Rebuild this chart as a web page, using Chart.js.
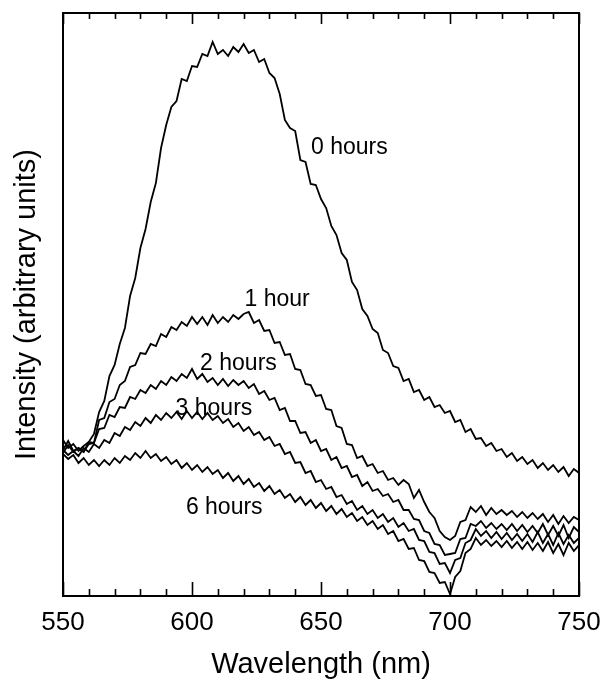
<!DOCTYPE html>
<html>
<head>
<meta charset="utf-8">
<script src="https://cdn.jsdelivr.net/npm/chart.js@4/dist/chart.umd.min.js"></script>
<style>
  html, body { margin: 0; padding: 0; background: #fff; }
  #wrap { width: 607px; height: 692px; }
</style>
</head>
<body>
<div id="wrap"><canvas id="grafico" width="607" height="692"></canvas></div>
<script>
// wavelength (nm), one reading every 2 nm
var wavelengths = [
  550, 552, 554, 556, 558, 560, 562, 564, 566, 568,
  570, 572, 574, 576, 578, 580, 582, 584, 586, 588,
  590, 592, 594, 596, 598, 600, 602, 604, 606, 608,
  610, 612, 614, 616, 618, 620, 622, 624, 626, 628,
  630, 632, 634, 636, 638, 640, 642, 644, 646, 648,
  650, 652, 654, 656, 658, 660, 662, 664, 666, 668,
  670, 672, 674, 676, 678, 680, 682, 684, 686, 688,
  690, 692, 694, 696, 698, 700, 702, 704, 706, 708,
  710, 712, 714, 716, 718, 720, 722, 724, 726, 728,
  730, 732, 734, 736, 738, 740, 742, 744, 746, 748,
  750
];

// intensity, arbitrary units
var hours0 = [
  160, 152, 156, 149, 154, 158, 166, 188, 199, 224,
  235, 256, 272, 304, 322, 352, 371, 398, 417, 452,
  475, 493, 499, 521, 519, 534, 533, 546, 544, 558,
  546, 550, 544, 553, 548, 556, 547, 550, 538, 541,
  527, 522, 506, 480, 472, 469, 440, 438, 416, 415,
  401, 392, 374, 365, 347, 340, 318, 310, 291, 284,
  271, 267, 250, 247, 234, 232, 219, 221, 208, 210,
  200, 203, 193, 195, 187, 189, 178, 180, 168, 171,
  161, 162, 154, 157, 149, 151, 143, 147, 139, 143,
  136, 140, 132, 137, 130, 135, 128, 133, 124, 131,
  127
];
var hours1 = [
  150, 159, 149, 152, 148, 156, 157, 180, 182, 198,
  201, 215, 219, 233, 235, 247, 246, 256, 254, 266,
  263, 273, 270, 278, 274, 283, 276, 283, 275, 285,
  277, 283, 278, 285, 281, 286, 288, 277, 280, 269,
  270, 257, 258, 245, 246, 231, 230, 216, 215, 204,
  205, 191, 190, 174, 172, 156, 155, 142, 144, 134,
  136, 127, 129, 120, 122, 115, 120, 116, 102, 110,
  98, 88, 82, 69, 63, 60, 64, 78, 80, 93,
  88, 94, 85, 92, 86, 90, 85, 89, 83, 88,
  82, 87, 81, 86, 78, 85, 76, 84, 77, 83,
  80
];
var hours2 = [
  147, 155, 148, 152, 148, 158, 157, 171, 172, 185,
  183, 193, 192, 203, 201, 210, 207, 215, 211, 219,
  215, 223, 219, 226, 222, 231, 221, 226, 218, 222,
  215, 221, 214, 220, 215, 219, 212, 216, 206, 209,
  200, 202, 190, 192, 179, 179, 167, 168, 157, 160,
  149, 151, 140, 143, 132, 134, 123, 125, 114, 118,
  109, 111, 104, 106, 98, 100, 90, 90, 81, 80,
  69, 67, 56, 55, 45, 46, 47, 61, 62, 76,
  74, 79, 72, 77, 71, 76, 70, 76, 69, 75,
  68, 74, 67, 76, 65, 74, 64, 75, 62, 73,
  68
];
var hours3 = [
  150, 145, 149, 144, 152, 148, 156, 152, 160, 157,
  167, 164, 173, 170, 178, 174, 182, 177, 185, 180,
  187, 182, 188, 181, 189, 182, 188, 181, 187, 180,
  184, 177, 181, 173, 177, 169, 173, 165, 168, 160,
  163, 154, 156, 146, 148, 137, 138, 127, 129, 118,
  120, 111, 113, 103, 105, 96, 99, 90, 94, 86,
  90, 82, 86, 78, 82, 73, 77, 69, 71, 60,
  59, 48, 47, 36, 37, 27, 40, 42, 57, 60,
  71, 64, 69, 62, 68, 61, 67, 60, 66, 59,
  66, 58, 68, 57, 66, 55, 67, 56, 65, 57,
  62
];
var hours6 = [
  146, 141, 145, 137, 142, 135, 140, 134, 140, 135,
  142, 137, 144, 140, 147, 142, 149, 142, 146, 139,
  143, 136, 140, 132, 137, 130, 135, 128, 133, 126,
  130, 122, 127, 119, 124, 116, 121, 113, 117, 109,
  114, 106, 110, 102, 106, 98, 103, 95, 100, 92,
  97, 89, 94, 86, 91, 83, 87, 79, 83, 75,
  79, 71, 75, 66, 69, 59, 61, 51, 52, 40,
  39, 28, 27, 17, 18, 6, 23, 29, 47, 51,
  62, 55, 60, 54, 59, 53, 59, 52, 58, 51,
  58, 50, 57, 49, 58, 47, 56, 45, 57, 49,
  55
];

var seriesNames = ['0 hours', '1 hour', '2 hours', '3 hours', '6 hours'];
var seriesValues = [hours0, hours1, hours2, hours3, hours6];
// where each curve's name is written, in data units (nm, intensity)
var labelX = [661, 633, 618, 608.5, 612.5];
var labelY = [452, 300, 236, 191, 92];

var xTickValues = [550, 600, 650, 700, 750];
var xMarks = [550, 560, 570, 580, 590, 600, 610, 620, 630, 640, 650,
  660, 670, 680, 690, 700, 710, 720, 730, 740, 750];

function toPoints(vals) {
  var pts = [];
  for (var i = 0; i < wavelengths.length; i++) {
    pts.push({ x: wavelengths[i], y: vals[i] });
  }
  return pts;
}

var datasets = [];
for (var s = 0; s < seriesValues.length; s++) {
  datasets.push({
    label: seriesNames[s],
    data: toPoints(seriesValues[s]),
    borderColor: '#000',
    borderWidth: 1.8,
    pointRadius: 0,
    tension: 0,
    fill: false
  });
}

// box round the plot, inward ticks top and bottom, curve names
const frame = {
  id: 'frame',
  afterDraw(chart) {
    const ctx = chart.ctx;
    const a = chart.chartArea;
    const xs = chart.scales.x;
    const ys = chart.scales.y;
    ctx.save();
    ctx.strokeStyle = '#000';
    ctx.lineWidth = 2;
    ctx.strokeRect(a.left, a.top, a.right - a.left, a.bottom - a.top);
    ctx.lineWidth = 1.6;
    ctx.beginPath();
    for (let i = 0; i < xMarks.length; i++) {
      const v = xMarks[i];
      const px = Math.round(xs.getPixelForValue(v)) + 0.5;
      const major = xTickValues.indexOf(v) >= 0;
      ctx.moveTo(px, a.bottom);
      ctx.lineTo(px, a.bottom - (major ? 14 : 7));
      ctx.moveTo(px, a.top);
      ctx.lineTo(px, a.top + (major ? 11 : 6));
    }
    ctx.stroke();
    ctx.fillStyle = '#000';
    ctx.font = '23px "Liberation Sans", Arial, sans-serif';
    ctx.textAlign = 'center';
    ctx.textBaseline = 'middle';
    for (let i = 0; i < seriesNames.length; i++) {
      ctx.fillText(seriesNames[i], xs.getPixelForValue(labelX[i]), ys.getPixelForValue(labelY[i]));
    }
    ctx.restore();
  }
};

const config = {
  type: 'line',
  data: { datasets: datasets },
  options: {
    responsive: false,
    animation: false,
    layout: { padding: { top: 13, right: 28, left: 0, bottom: 0 } },
    plugins: {
      legend: { display: false },
      tooltip: { enabled: false }
    },
    scales: {
      x: {
        type: 'linear',
        min: 550,
        max: 750,
        afterBuildTicks: function (scale) {
          scale.ticks = xTickValues.map(function (v) { return { value: v }; });
        },
        afterFit: function (scale) {
          scale.height = 96;
          scale.paddingLeft = 0;
          scale.paddingRight = 0;
        },
        grid: { display: false, drawTicks: false },
        border: { display: false },
        ticks: {
          padding: 11,
          color: '#000',
          font: { family: '"Liberation Sans", Arial, sans-serif', size: 26 }
        },
        title: {
          display: true,
          text: 'Wavelength (nm)',
          color: '#000',
          padding: { top: 0, bottom: 10 },
          font: { family: '"Liberation Sans", Arial, sans-serif', size: 29 }
        }
      },
      y: {
        min: 4,
        max: 587,
        afterFit: function (scale) { scale.width = 63; },
        grid: { display: false, drawTicks: false },
        border: { display: false },
        ticks: { display: false },
        title: {
          display: true,
          text: 'Intensity (arbitrary units)',
          color: '#000',
          padding: { top: 10, bottom: 0 },
          font: { family: '"Liberation Sans", Arial, sans-serif', size: 29 }
        }
      }
    }
  },
  plugins: [frame]
};

const myChart = new Chart(document.getElementById('grafico'), config);
</script>
</body>
</html>
